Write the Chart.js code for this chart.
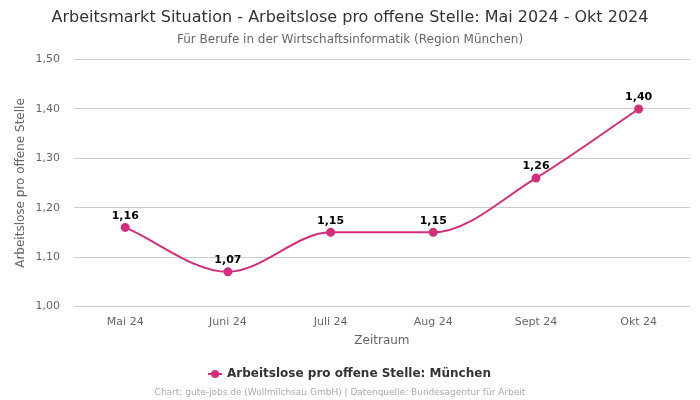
<!DOCTYPE html>
<html><head><meta charset="utf-8">
<script src="https://cdn.jsdelivr.net/npm/chart.js@4/dist/chart.umd.min.js"></script>
<style>html,body{margin:0;padding:0;background:#fff}#wrap{width:700px;height:400px}</style>
</head><body><div id="wrap"><canvas id="c" width="700" height="400"></canvas></div>
<script>
const categories = ["Mai 24", "Juni 24", "Juli 24", "Aug 24", "Sept 24", "Okt 24"];
const values = [1.16, 1.07, 1.15, 1.15, 1.26, 1.40];
const seriesName = "Arbeitslose pro offene Stelle: München";
const titleText = "Arbeitsmarkt Situation - Arbeitslose pro offene Stelle: Mai 2024 - Okt 2024";
const subtitleText = "Für Berufe in der Wirtschaftsinformatik (Region München)";
const footerText = "Chart: gute-jobs.de (Wollmilchsau GmbH) | Datenquelle: Bundesagentur für Arbeit";
const fmt = v => v.toFixed(2).replace('.', ',');
const FONT = "'DejaVu Sans', sans-serif";
const color = '#d42e7b';

// legend marker: line with dot
const marker = document.createElement('canvas');
marker.width = 14; marker.height = 10;
(function(){
  const m = marker.getContext('2d');
  m.strokeStyle = color; m.fillStyle = color; m.lineWidth = 2;
  m.beginPath(); m.moveTo(0, 5); m.lineTo(14, 5); m.stroke();
  m.beginPath(); m.arc(7, 5, 4, 0, Math.PI * 2); m.fill();
})();

const labelPlugin = {
  id: 'pointLabels',
  afterDatasetsDraw(chart) {
    const ctx = chart.ctx;
    const meta = chart.getDatasetMeta(0);
    ctx.save();
    ctx.font = "bold 11px " + FONT;
    ctx.fillStyle = '#000';
    ctx.textAlign = 'center';
    ctx.textBaseline = 'bottom';
    meta.data.forEach((p, i) => {
      ctx.fillText(fmt(chart.data.datasets[0].data[i]), p.x, p.y - 6);
    });
    ctx.restore();
  }
};
const footerPlugin = {
  id: 'footerText',
  afterDraw(chart) {
    const ctx = chart.ctx;
    ctx.save();
    ctx.font = "9px " + FONT;
    ctx.fillStyle = '#aaa';
    ctx.textAlign = 'center';
    ctx.textBaseline = 'middle';
    ctx.fillText(footerText, 340, 392.5);
    ctx.restore();
  }
};

new Chart(document.getElementById('c'), {
  type: 'line',
  data: {
    labels: categories,
    datasets: [{
      label: seriesName,
      data: values,
      borderColor: color,
      backgroundColor: color,
      borderWidth: 2,
      pointRadius: 3.5,
      pointHoverRadius: 3.5,
      pointStyle: 'circle',
      cubicInterpolationMode: 'monotone',
      fill: false
    }]
  },
  options: {
    responsive: false,
    animation: false,
    layout: { padding: { left: 10, right: 10, top: 0, bottom: 10 } },
    plugins: {
      title: { display: true, text: titleText, color: '#333', font: { family: FONT, size: 16, weight: 'normal' }, padding: { top: 8, bottom: 5 } },
      subtitle: { display: true, text: subtitleText, color: '#666', font: { family: FONT, size: 12 }, padding: { bottom: 13 } },
      legend: { position: 'bottom', labels: { color: '#333', font: { family: FONT, size: 12, weight: 'bold' }, usePointStyle: true, boxWidth: 14, padding: 14,
        generateLabels(chart) {
          const items = Chart.defaults.plugins.legend.labels.generateLabels(chart);
          items.forEach(it => { it.pointStyle = marker; });
          return items;
        } } },
      tooltip: { enabled: false }
    },
    scales: {
      x: {
        offset: true,
        grid: { display: false },
        border: { display: false },
        ticks: { color: '#666', font: { family: FONT, size: 11 }, padding: 1 },
        title: { display: true, text: 'Zeitraum', color: '#666', font: { family: FONT, size: 12 }, padding: { top: 4, bottom: 6 } }
      },
      y: {
        min: 1.0, max: 1.5,
        grid: { color: '#ccc', drawTicks: true, tickLength: 11, tickColor: 'rgba(0,0,0,0)' },
        border: { display: false },
        ticks: { stepSize: 0.1, color: '#666', font: { family: FONT, size: 11 }, padding: 3, callback: v => fmt(v) },
        title: { display: true, text: 'Arbeitslose pro offene Stelle', color: '#666', font: { family: FONT, size: 12 } }
      }
    }
  },
  plugins: [labelPlugin, footerPlugin]
});
</script></body></html>
